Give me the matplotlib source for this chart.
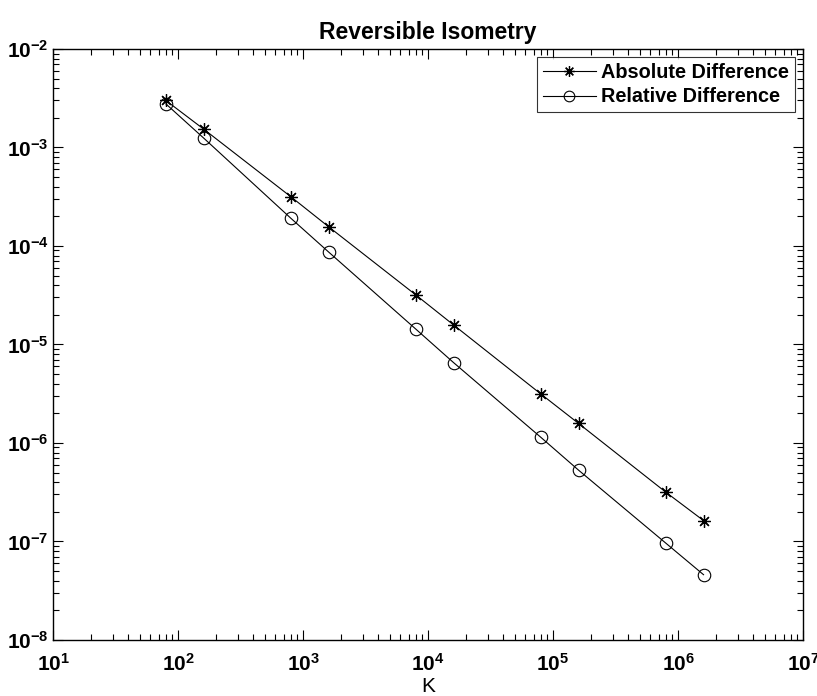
import numpy as np
import matplotlib
matplotlib.use('Agg')
import matplotlib.pyplot as plt
from matplotlib.ticker import LogLocator, NullFormatter

plt.rcParams['font.family'] = 'Liberation Sans'

#data
K = [80, 160, 800, 1600, 8000, 16000, 80000, 160000, 800000, 1600000]
abs_diff = [3.0e-3, 1.54e-3, 3.16e-4, 1.57e-4, 3.18e-5, 1.58e-5, 3.14e-6, 1.58e-6, 3.16e-7, 1.63e-7]
rel_diff = [2.77e-3, 1.25e-3, 1.91e-4, 8.7e-5, 1.43e-5, 6.55e-6, 1.14e-6, 5.3e-7, 9.6e-8, 4.6e-8]

fig = plt.figure(figsize=(8.17, 6.96), dpi=100)
ax = fig.add_axes([0.0649, 0.0805, 0.918, 0.8491])

ax.loglog(K, abs_diff, '-', color='k', lw=0.8, marker=(8, 2, 0), ms=9,
          mew=0.9, label='Absolute Difference')
ax.loglog(K, rel_diff, '-', color='k', lw=0.8, marker='o', ms=9,
          mfc='none', mew=0.8, label='Relative Difference')

ax.set_xlim(1e1, 1e7)
ax.set_ylim(1e-8, 1e-2)

for a in (ax.xaxis, ax.yaxis):
    a.set_major_locator(LogLocator(base=10, numticks=20))
    a.set_minor_locator(LogLocator(base=10, subs=np.arange(2, 10), numticks=20))
    a.set_minor_formatter(NullFormatter())

ax.tick_params(which='both', direction='in', top=True, right=True, width=0.8)
ax.tick_params(which='major', length=7, labelsize=15)
ax.tick_params(which='minor', length=4)
ax.tick_params(axis='x', which='major', pad=9)
ax.tick_params(axis='y', which='major', pad=3)
for lbl in ax.get_xticklabels() + ax.get_yticklabels():
    lbl.set_fontweight('bold')
for s in ax.spines.values():
    s.set_linewidth(1.0)

ax.set_xlabel('K', fontsize=15, labelpad=2)
ax.set_title('Reversible Isometry', fontsize=16.5, fontweight='bold', pad=7)

leg = ax.legend(loc='upper right', fancybox=False, edgecolor='k',
                prop={'weight': 'bold', 'size': 14.3}, handlelength=2.7,
                borderaxespad=0.4, borderpad=0.3, labelspacing=0.28,
                handletextpad=0.25, markerscale=0.85)
leg.get_frame().set_linewidth(0.8)

fig.savefig('out.png', dpi=100)
